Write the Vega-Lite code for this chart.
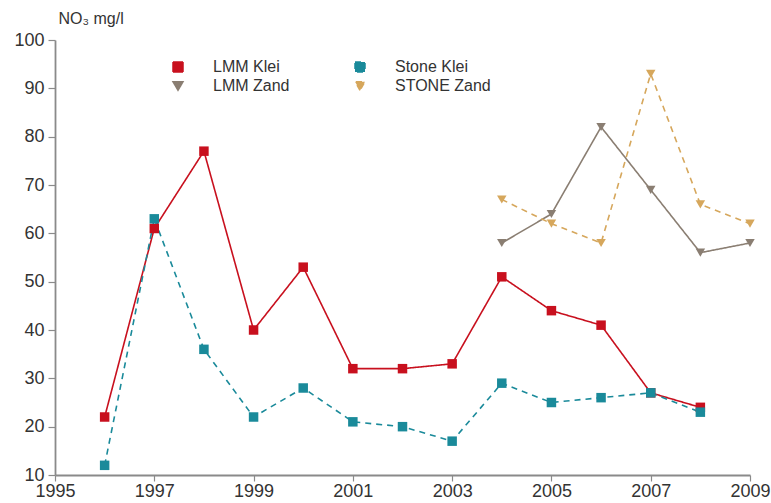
{
  "$schema": "https://vega.github.io/schema/vega-lite/v6.json",
  "autosize": "none",
  "width": 695,
  "height": 435,
  "padding": {"left": 55, "top": 40, "right": 21, "bottom": 28},
  "background": "white",
  "config": {
    "view": {"stroke": null},
    "font": "Liberation Sans",
    "axis": {"labelFont": "Liberation Sans", "labelFontSize": 18, "labelColor": "#333333", "domainColor": "#8a8a8a", "tickColor": "#8a8a8a", "grid": false, "domainWidth": 1.8, "tickWidth": 1.2}
  },
  "data": {
    "values": [
      {"year": 1996, "value": 22, "series": "LMM Klei"},
      {"year": 1997, "value": 61, "series": "LMM Klei"},
      {"year": 1998, "value": 77, "series": "LMM Klei"},
      {"year": 1999, "value": 40, "series": "LMM Klei"},
      {"year": 2000, "value": 53, "series": "LMM Klei"},
      {"year": 2001, "value": 32, "series": "LMM Klei"},
      {"year": 2002, "value": 32, "series": "LMM Klei"},
      {"year": 2003, "value": 33, "series": "LMM Klei"},
      {"year": 2004, "value": 51, "series": "LMM Klei"},
      {"year": 2005, "value": 44, "series": "LMM Klei"},
      {"year": 2006, "value": 41, "series": "LMM Klei"},
      {"year": 2007, "value": 27, "series": "LMM Klei"},
      {"year": 2008, "value": 24, "series": "LMM Klei"},
      {"year": 1996, "value": 12, "series": "Stone Klei"},
      {"year": 1997, "value": 63, "series": "Stone Klei"},
      {"year": 1998, "value": 36, "series": "Stone Klei"},
      {"year": 1999, "value": 22, "series": "Stone Klei"},
      {"year": 2000, "value": 28, "series": "Stone Klei"},
      {"year": 2001, "value": 21, "series": "Stone Klei"},
      {"year": 2002, "value": 20, "series": "Stone Klei"},
      {"year": 2003, "value": 17, "series": "Stone Klei"},
      {"year": 2004, "value": 29, "series": "Stone Klei"},
      {"year": 2005, "value": 25, "series": "Stone Klei"},
      {"year": 2006, "value": 26, "series": "Stone Klei"},
      {"year": 2007, "value": 27, "series": "Stone Klei"},
      {"year": 2008, "value": 23, "series": "Stone Klei"},
      {"year": 2004, "value": 58, "series": "LMM Zand"},
      {"year": 2005, "value": 64, "series": "LMM Zand"},
      {"year": 2006, "value": 82, "series": "LMM Zand"},
      {"year": 2007, "value": 69, "series": "LMM Zand"},
      {"year": 2008, "value": 56, "series": "LMM Zand"},
      {"year": 2009, "value": 58, "series": "LMM Zand"},
      {"year": 2004, "value": 67, "series": "STONE Zand"},
      {"year": 2005, "value": 62, "series": "STONE Zand"},
      {"year": 2006, "value": 58, "series": "STONE Zand"},
      {"year": 2007, "value": 93, "series": "STONE Zand"},
      {"year": 2008, "value": 66, "series": "STONE Zand"},
      {"year": 2009, "value": 62, "series": "STONE Zand"}
    ]
  },
  "encoding": {
    "x": {"field": "year", "type": "quantitative", "scale": {"domain": [1995, 2009], "nice": false, "zero": false},
      "axis": {"values": [1995, 1997, 1999, 2001, 2003, 2005, 2007, 2009], "format": "d", "title": null, "tickSize": 6, "labelPadding": 1, "labelFlush": false}},
    "y": {"field": "value", "type": "quantitative", "scale": {"domain": [10, 100], "nice": false, "zero": false},
      "axis": {"values": [10, 20, 30, 40, 50, 60, 70, 80, 90, 100], "title": "NO₃ mg/l", "titleAngle": 0, "titleAlign": "left", "titleBaseline": "alphabetic", "titleX": 3, "titleY": -17, "titleFont": "Liberation Sans", "titleFontSize": 16, "titleFontWeight": "normal", "titleColor": "#333333", "tickSize": 7, "labelPadding": 4}},
    "color": {"field": "series", "type": "nominal",
      "scale": {"domain": ["LMM Klei", "Stone Klei", "LMM Zand", "STONE Zand"], "range": ["#c8101e", "#1a8a9a", "#8a7e72", "#d6a75c"]},
      "legend": {"orient": "none", "legendX": 115, "legendY": 19, "columns": 2, "direction": "horizontal", "title": null, "labelFontSize": 16, "labelColor": "#333333", "labelFont": "Liberation Sans", "columnPadding": 62, "rowPadding": 3, "symbolSize": 100, "symbolOpacity": 1, "labelOffset": 27}
    }
  },
  "layer": [
    {
      "mark": {"type": "line", "strokeWidth": 1.6},
      "encoding": {
        "strokeDash": {"field": "series", "type": "nominal", "scale": {"domain": ["LMM Klei", "Stone Klei", "LMM Zand", "STONE Zand"], "range": [[1, 0], [6, 5], [1, 0], [6, 5]]}, "legend": null}
      }
    },
    {
      "mark": {"type": "point", "filled": true, "opacity": 1, "size": 90},
      "encoding": {
        "shape": {"field": "series", "type": "nominal", "scale": {"domain": ["LMM Klei", "Stone Klei", "LMM Zand", "STONE Zand"], "range": ["square", "square", "triangle-down", "triangle-down"]}, "legend": null}
      }
    }
  ]
}
